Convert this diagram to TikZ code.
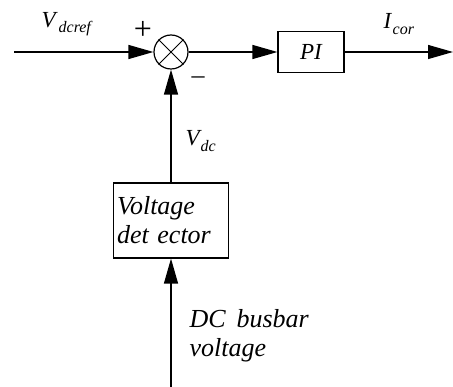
\documentclass[tikz,border=0pt]{standalone}
\usepackage{fontspec}
\setmainfont{Liberation Serif}
\usetikzlibrary{arrows.meta}
\begin{document}
\begin{tikzpicture}[x=1pt,y=-1pt,
  line width=1.3pt,
  arr/.style={-{Triangle[length=25pt,width=14pt]}},
  blk/.style={draw,line width=1.2pt,inner sep=0pt,font=\fontsize{26}{29}\selectfont\itshape,align=left},
  lbl/.style={font=\fontsize{23}{27}\selectfont\itshape,inner sep=0pt},
  sub/.style={font=\fontsize{16}{16}\selectfont\itshape,inner sep=0pt}]
\useasboundingbox (0,0) rectangle (453,387);
\coordinate (in) at (14,52);
\node[draw,circle,minimum size=34pt,inner sep=0pt,line width=1.2pt] (sum) at (171,52) {};
\draw[line width=1pt] (sum.north west) -- (sum.south east) (sum.north east) -- (sum.south west);
\node[blk,minimum width=66pt,minimum height=41pt,align=center,font=\fontsize{23}{27}\selectfont\itshape] (pi) at (311,52) {PI};
\coordinate (out) at (453,52);
\node[blk,minimum width=115pt,minimum height=75pt,text width=108pt] (det) at (171,220.5) {Voltage\\det ector};
\coordinate (bot) at (171,387);
\draw[arr] (in) -- (sum);
\draw[arr] (sum) -- (pi);
\draw[arr] (pi) -- (out);
\draw[arr] (det) -- (sum);
\draw[arr] (bot) -- (det);
\node[lbl,anchor=base west] (vref) at (41,28) {V};
\node[sub,anchor=base west] (vrefs) at (58,33) {dcref};
\node[lbl,anchor=base west] (icor) at (383,29) {I};
\node[sub,anchor=base west] (icors) at (392,35) {cor};
\node[font=\fontsize{32}{32}\selectfont,inner sep=0pt] (plus) at (143,30) {+};
\node[font=\fontsize{26}{26}\selectfont,inner sep=0pt] (minus) at (198,80) {\textendash};
\node[lbl,anchor=base west] (vdc) at (185,146) {V};
\node[sub,anchor=base west] (vdcs) at (200,152) {dc};
\node[blk,draw=none,anchor=base west,align=left] (dcbus) at (189,357) {DC\, busbar\\voltage};
\end{tikzpicture}
\end{document}
